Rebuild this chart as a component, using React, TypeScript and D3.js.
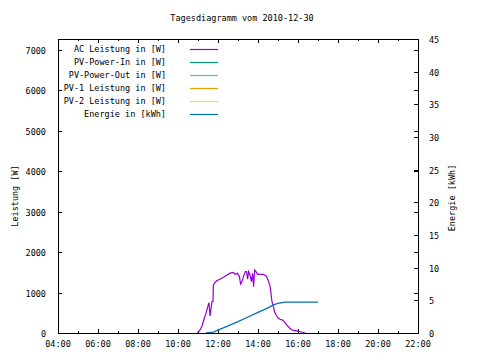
import React from "react";
import * as d3 from "d3";

const title = "Tagesdiagramm vom 2010-12-30";
const xTickLabels = ["04:00", "06:00", "08:00", "10:00", "12:00", "14:00", "16:00", "18:00", "20:00", "22:00"];
const yTicks = [0, 1000, 2000, 3000, 4000, 5000, 6000, 7000];
const y2Ticks = [0, 5, 10, 15, 20, 25, 30, 35, 40, 45];

const seriesNames = ["AC Leistung in [W]", "PV-Power-In in [W]", "PV-Power-Out in [W]", "PV-1 Leistung in [W]", "PV-2 Leistung in [W]", "Energie in [kWh]"];
const seriesColors = ["#9400d3", "#009e73", "#56b4e9", "#e69f00", "#f0e442", "#0072b2"];

// AC Leistung: hour of day, watts
const acHours = [10.97, 11.1, 11.2, 11.3, 11.4, 11.5, 11.55, 11.6, 11.7, 11.75, 11.77, 11.85, 11.93, 12.1, 12.27, 12.43, 12.6, 12.77, 12.85, 12.97, 13.07, 13.13, 13.2, 13.27, 13.37, 13.43, 13.48, 13.53, 13.6, 13.67, 13.73, 13.78, 13.83, 13.9, 13.97, 14.1, 14.27, 14.4, 14.47, 14.53, 14.6, 14.65, 14.7, 14.77, 14.83, 14.93, 15.02, 15.1, 15.23, 15.33, 15.43, 15.57, 15.7, 15.85, 16.02, 16.18, 16.37];
const acWatts = [0, 75, 170, 340, 490, 670, 750, 420, 775, 780, 1190, 1245, 1290, 1330, 1380, 1430, 1480, 1500, 1450, 1475, 1395, 1210, 1270, 1395, 1520, 1520, 1330, 1520, 1435, 1270, 1475, 1145, 1560, 1520, 1450, 1450, 1450, 1410, 1355, 1270, 1165, 980, 775, 650, 525, 420, 365, 340, 320, 270, 200, 130, 75, 60, 40, 25, 0];

// Energie: hour of day, kWh
const enHours = [11.4, 11.77, 12.0, 12.5, 13.0, 13.5, 14.0, 14.5, 14.77, 15.0, 15.35, 16.0, 17.0];
const enKwh = [0, 0.15, 0.45, 1.1, 1.75, 2.45, 3.15, 3.85, 4.3, 4.55, 4.72, 4.72, 4.72];

const W = 480, H = 360;
const L = 58, R = 418, T = 39, B = 333;
const FONT = "'DejaVu Sans Mono', 'Liberation Mono', monospace";

export default function App() {
  const x = d3.scaleLinear().domain([4, 22]).range([L, R]);
  const y = d3.scaleLinear().domain([0, 7270]).range([B, T]);
  const y2 = d3.scaleLinear().domain([0, 45]).range([B, T]);

  const acData = acHours.map((h, i) => [h, acWatts[i]] as [number, number]);
  const enData = enHours.map((h, i) => [h, enKwh[i]] as [number, number]);
  const acLine = d3.line<[number, number]>().x(d => x(d[0])).y(d => y(d[1]));
  const enLine = d3.line<[number, number]>().x(d => x(d[0])).y(d => y2(d[1]));

  const hours = d3.range(4, 23, 1);
  const fs = 8.5;

  return (
    <div style={{ position: "absolute", left: 0, top: 0 }}>
      <svg width={W} height={H} style={{ display: "block", background: "#fff" }} fontFamily={FONT} fontSize={fs}>
        <rect width={W} height={H} fill="#fff" />
        <text x={(L + R) / 2 + 4} y={21} textAnchor="middle">{title}</text>

        {/* x ticks bottom & top */}
        {hours.map(h => {
          const major = (h - 4) % 2 === 0;
          const len = major ? 4 : 2;
          const xx = Math.round(x(h)) + 0.5;
          return (
            <g key={"xt" + h} stroke="#000" strokeWidth={1}>
              <line x1={xx} x2={xx} y1={B} y2={B - len} />
              <line x1={xx} x2={xx} y1={T} y2={T + len} />
            </g>
          );
        })}
        {xTickLabels.map((lab, i) => (
          <text key={"xl" + i} x={x(4 + 2 * i)} y={347} textAnchor="middle">{lab}</text>
        ))}

        {/* y ticks left + mirrored right */}
        {yTicks.map(v => {
          const yy = Math.round(y(v)) + 0.5;
          return (
            <g key={"yt" + v}>
              <line x1={L} x2={L + 4} y1={yy} y2={yy} stroke="#000" />
              <line x1={R} x2={R - 4} y1={yy} y2={yy} stroke="#000" />
              <text x={46} y={yy + 3} textAnchor="end">{v}</text>
            </g>
          );
        })}
        {/* y2 ticks */}
        {y2Ticks.map(v => {
          const yy = Math.round(y2(v)) + 0.5;
          return (
            <g key={"y2t" + v}>
              <line x1={R} x2={R - 4} y1={yy} y2={yy} stroke="#000" />
              <text x={429} y={yy + 3} textAnchor="start">{v}</text>
            </g>
          );
        })}

        <text transform="translate(18,196) rotate(-90)" textAnchor="middle">Leistung [W]</text>
        <text transform="translate(455,198) rotate(-90)" textAnchor="middle">Energie [kWh]</text>

        {/* data */}
        <path d={acLine(acData) || ""} fill="none" stroke={seriesColors[0]} strokeWidth={1.2} />
        <path d={enLine(enData) || ""} fill="none" stroke={seriesColors[5]} strokeWidth={1.3} />

        {/* legend */}
        {seriesNames.map((n, i) => {
          const ly = 49 + i * 13;
          return (
            <g key={"lg" + i}>
              <text x={166} y={ly + 3} textAnchor="end">{n}</text>
              <line x1={190} x2={218} y1={ly + 0.5} y2={ly + 0.5} stroke={seriesColors[i]} strokeWidth={1.2} />
            </g>
          );
        })}

        {/* border */}
        <rect x={L + 0.5} y={T + 0.5} width={R - L} height={B - T} fill="none" stroke="#000" strokeWidth={1} />
      </svg>
    </div>
  );
}
